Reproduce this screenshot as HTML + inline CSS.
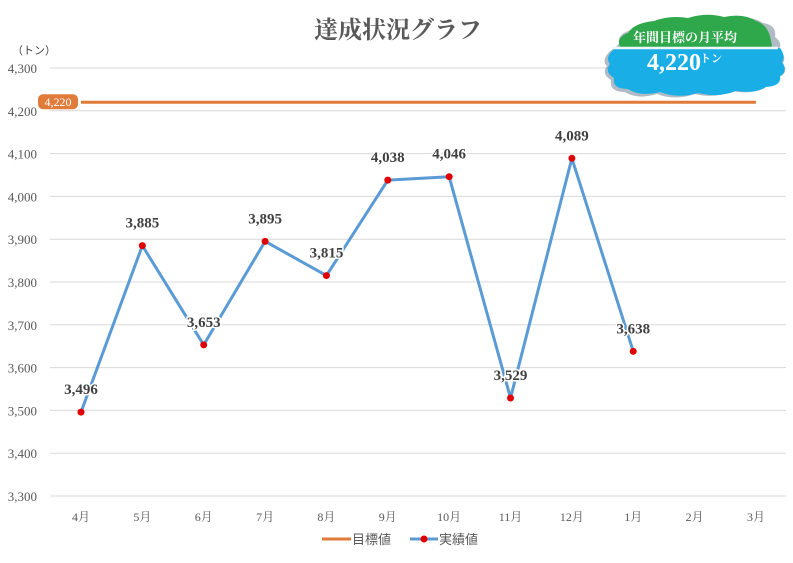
<!DOCTYPE html>
<html><head><meta charset="utf-8"><style>
body{margin:0;background:#fff;width:793px;height:558px;overflow:hidden;font-family:"Liberation Serif","Noto Serif CJK SC",serif}
</style></head><body>
<svg id="c" width="793" height="558" xmlns="http://www.w3.org/2000/svg">
<text x="398" y="38" text-anchor="middle" font-size="24" font-weight="bold" fill="#595959">達成状況グラフ</text>
<text x="12" y="54" font-size="11" fill="#404040" font-family="Liberation Sans,Noto Sans CJK JP,sans-serif">（トン）</text>
<g id="grid"></g><g id="yt"></g><g id="xt"></g><g id="marks"></g>
<g>
<path d="M614,52 q-6,-6 2,-12 q-2,-10 12,-14 q10,-10 30,-8 q16,-6 34,-2 q18,-6 36,-1 q20,-4 32,4 q14,2 12,14 q8,6 4,12 q8,8 4,14 q6,10 -4,14 q-2,10 -16,10 q-10,8 -30,4 q-18,8 -38,3 q-20,7 -38,0 q-20,6 -32,-2 q-16,0 -14,-12 q-10,-6 -4,-14 q-8,-8 10,-20 z" fill="#1e3b55" opacity="0.35" transform="translate(3,4)"/>
<path d="M620,47 q-4,-10 8,-14 q6,-10 26,-12 q16,-6 34,-3 q18,-6 36,-1 q20,-4 32,4 q14,4 16,26 z" fill="#2ea84a"/>
<path d="M612,48 L780,48 q6,8 2,14 q6,10 -2,14 q2,10 -14,11 q-10,7 -30,4 q-18,7 -38,2 q-20,6 -38,-1 q-20,5 -32,-3 q-16,0 -14,-11 q-10,-6 -4,-14 q-6,-8 6,-16 z" fill="#19aee6"/>
<line x1="612" y1="48" x2="778" y2="48" stroke="#eef6f8" stroke-width="2.5"/>
<text x="685" y="42" text-anchor="middle" font-size="13" font-weight="bold" fill="#fff">年間目標の月平均</text>
<text x="674" y="70" text-anchor="middle" font-size="24" font-weight="bold" fill="#fff">4,220</text>
<text x="711" y="62" text-anchor="middle" font-size="11" font-weight="bold" fill="#fff">トン</text>
</g>
<g font-family="Liberation Sans,Noto Sans CJK JP,sans-serif" font-size="13" fill="#595959">
<line x1="322" y1="539" x2="351" y2="539" stroke="#e07b39" stroke-width="3"/>
<text x="352" y="544">目標値</text>
<line x1="410" y1="539" x2="438" y2="539" stroke="#5b9bd5" stroke-width="3"/>
<circle cx="424" cy="539" r="3.5" fill="#e00000"/>
<text x="439" y="544">実績値</text>
</g>
</svg>
<script>
const months=["4月","5月","6月","7月","8月","9月","10月","11月","12月","1月","2月","3月"];
const actual=[3496,3885,3653,3895,3815,4038,4046,3529,4089,3638];
const target=[4220];
const yTicks=[3300,3400,3500,3600,3700,3800,3900,4000,4100,4200,4300];
const NS="http://www.w3.org/2000/svg";
const y=v=>496-(v-3300)*0.428;
const x=i=>81+i*61.36;
function mk(t,a,p){const e=document.createElementNS(NS,t);for(const k in a)e.setAttribute(k,a[k]);p.appendChild(e);return e;}
const g=document.getElementById('grid'),yt=document.getElementById('yt'),xt=document.getElementById('xt'),m=document.getElementById('marks');
yTicks.forEach(v=>{
 const l=mk('line',{x1:50,x2:786,y1:y(v),y2:y(v),stroke:'#d9d9d9','stroke-width':1},g);
 
 
 const t=mk('text',{x:37,y:y(v)+5,'text-anchor':'end','font-size':13,fill:'#595959'},yt);
 
 
 t.textContent=v.toLocaleString('en-US');
});
months.forEach((s,i)=>{
 const t=mk('text',{x:x(i),y:521,'text-anchor':'middle','font-size':12,fill:'#595959'},xt);
 
 
 t.textContent=s;
});
const tl=mk('line',{x1:x(0),x2:x(11),y1:y(target[0]),y2:y(target[0]),stroke:'#e07b39','stroke-width':3},m);


const tb=mk('rect',{x:38,y:y(target[0])-8,width:40,height:15,rx:5,fill:'#e07b39'},m);


const tt=mk('text',{x:58,y:y(target[0])+4,'text-anchor':'middle','font-size':12,fill:'#fff'},m);


tt.textContent=target[0].toLocaleString('en-US');
const pl=mk('polyline',{points:actual.map((v,i)=>x(i)+','+y(v)).join(' '),fill:'none',stroke:'#5b9bd5','stroke-width':3,'stroke-linejoin':'round'},m);


actual.forEach((v,i)=>{
 const c=mk('circle',{cx:x(i),cy:y(v),r:3.5,fill:'#e00000'},m);
 
 
 const t=mk('text',{x:x(i),y:y(v)-18,'text-anchor':'middle','font-size':15,'font-weight':'bold',fill:'#404040',stroke:'#fff','stroke-width':3,'paint-order':'stroke'},m);
 
 
 t.textContent=v.toLocaleString('en-US');
});
</script>
</body></html>
